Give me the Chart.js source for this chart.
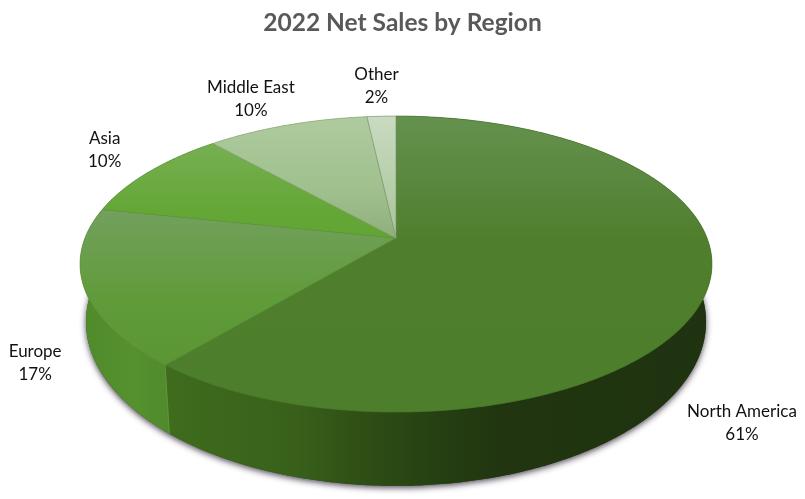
<!DOCTYPE html>
<html>
<head>
<meta charset="utf-8">
<title>2022 Net Sales by Region</title>
<script src="https://cdn.jsdelivr.net/npm/chart.js@4"></script>
<style>
    html, body { margin: 0; padding: 0; background: #fff; }
    canvas { display: block; }
</style>
</head>
<body>
<canvas id="salesChart" width="805" height="499"></canvas>
<script>
// Data
const TITLE = '2022 Net Sales by Region';
const REGIONS = ['North America', 'Europe', 'Asia', 'Middle East', 'Other'];
const SHARES = [61.1, 17.2, 10.1, 9.85, 1.75];

// Top face: vertical gradient stops per slice
const FACE_STOPS = [
    [[0, '#65914f'], [0.42, '#4f7f2d'], [1, '#4d7e2b']],
    [[0, '#73a05e'], [0.6, '#5f9b38'], [1, '#5b9634']],
    [[0, '#77af52'], [0.7, '#64a737'], [1, '#62a535']],
    [[0, '#aecb9f'], [0.6, '#a0c08d'], [1, '#8fb07c']],
    [[0, '#c9dbc0'], [1, '#a9c49a']]
];
// Side wall: horizontal gradient stops per slice
const WALL_STOPS = [
    [[0, '#3f6c1d'], [0.24, '#38601a'], [0.35, '#2f5016'], [0.5, '#253f12'], [0.62, '#203510'], [1, '#1f3310']],
    [[0, '#4f8a2b'], [0.6, '#56912f'], [1, '#4f8a2c']],
    [[0, '#4f8a2b'], [1, '#4f8a2b']],
    [[0, '#8fb07c'], [1, '#8fb07c']],
    [[0, '#a9c49a'], [1, '#a9c49a']]
];
const EDGE_COLORS = ['#4a7a2a', '#5e9239', '#5f9838', '#8aa87a', '#7f9a72'];

// Label position relative to the middle of the slice's rim
const LABEL_OFFSETS = [[35, 133], [-49, 75], [-44, -22], [-36, -26.5], [-5, -30.5]];
const LABEL_FONT = '17px Lato, "Open Sans", sans-serif';
const LABEL_LINE = 23;

// Perspective of the tilted disc: top rim and bottom rim
const TOP_RIM = { cx: 396, cy: 238, a: 311, b: 143.4, p: 0.176 };
const BOTTOM_RIM = { cx: 396, cy: 293, a: 305.2, b: 158.9, p: 0.176 };

function project(rim, angle, k) {
    const u = Math.cos(angle) * k;
    const v = Math.sin(angle) * k;
    const w = 1 - rim.p * v;
    return { x: rim.cx + rim.a * u / w, y: rim.cy + rim.b * v / w };
}

function arcPoints(rim, start, end) {
    const pts = [];
    const steps = Math.max(2, Math.ceil((end - start) / 0.01));
    for (let i = 0; i <= steps; i++) {
        pts.push(project(rim, start + (end - start) * i / steps, 1));
    }
    return pts;
}

function tracePath(ctx, pts) {
    ctx.beginPath();
    pts.forEach((pt, i) => i ? ctx.lineTo(pt.x, pt.y) : ctx.moveTo(pt.x, pt.y));
    ctx.closePath();
}

function gradient(ctx, pts, horizontal, stops) {
    const vals = pts.map(pt => horizontal ? pt.x : pt.y);
    const lo = Math.min(...vals), hi = Math.max(...vals);
    const g = horizontal ? ctx.createLinearGradient(lo, 0, hi, 0) : ctx.createLinearGradient(0, lo, 0, hi);
    stops.forEach(s => g.addColorStop(s[0], s[1]));
    return g;
}

// Draws the library's arc elements as a 3D disc
const pie3d = {
    id: 'pie3d',
    beforeDatasetsDraw(chart) {
        const ctx = chart.ctx;
        const arcs = chart.getDatasetMeta(0).data.map(el => el.getProps(['startAngle', 'endAngle']));
        ctx.save();

        // soft shadow under the whole disc
        ctx.save();
        ctx.shadowColor = 'rgba(50,40,60,0.85)';
        ctx.shadowBlur = 6;
        ctx.shadowOffsetY = 2;
        ctx.fillStyle = '#33561a';
        tracePath(ctx, arcPoints(BOTTOM_RIM, 0, Math.PI * 2));
        ctx.fill();
        ctx.restore();

        // side walls
        arcs.forEach((arc, i) => {
            const top = arcPoints(TOP_RIM, arc.startAngle, arc.endAngle);
            const bottom = arcPoints(BOTTOM_RIM, arc.startAngle, arc.endAngle);
            const outline = top.concat(bottom.slice().reverse());
            tracePath(ctx, outline);
            ctx.fillStyle = gradient(ctx, outline, true, WALL_STOPS[i]);
            ctx.fill();
        });

        // seam between the North America and Europe walls
        const seam = arcs[0].endAngle;
        const seamTop = project(TOP_RIM, seam, 1), seamBottom = project(BOTTOM_RIM, seam, 1);
        ctx.beginPath();
        ctx.moveTo(seamTop.x, seamTop.y);
        ctx.lineTo(seamBottom.x, seamBottom.y);
        ctx.strokeStyle = '#6a9c45';
        ctx.lineWidth = 0.8;
        ctx.stroke();

        // top faces
        arcs.forEach((arc, i) => {
            const apex = project(TOP_RIM, 0, 0);
            const outline = [apex].concat(arcPoints(TOP_RIM, arc.startAngle, arc.endAngle));
            tracePath(ctx, outline);
            ctx.fillStyle = gradient(ctx, outline, false, FACE_STOPS[i]);
            ctx.fill();
            ctx.strokeStyle = EDGE_COLORS[i];
            ctx.lineWidth = 0.7;
            ctx.stroke();
        });

        // labels
        ctx.font = LABEL_FONT;
        ctx.fillStyle = '#111';
        ctx.textAlign = 'center';
        ctx.textBaseline = 'middle';
        const total = SHARES.reduce((a, b) => a + b, 0);
        arcs.forEach((arc, i) => {
            const mid = project(TOP_RIM, (arc.startAngle + arc.endAngle) / 2, 1);
            const x = mid.x + LABEL_OFFSETS[i][0];
            const y = mid.y + LABEL_OFFSETS[i][1];
            ctx.fillText(REGIONS[i], x, y - LABEL_LINE / 2);
            ctx.fillText(Math.round(SHARES[i] / total * 100) + '%', x, y + LABEL_LINE / 2);
        });

        ctx.restore();
        return false;
    }
};

new Chart(document.getElementById('salesChart'), {
    type: 'pie',
    data: {
        labels: REGIONS,
        datasets: [{ data: SHARES }]
    },
    options: {
        responsive: false,
        animation: false,
        plugins: {
            legend: { display: false },
            tooltip: { enabled: false },
            title: {
                display: true,
                text: TITLE,
                color: '#595959',
                font: { family: 'Lato, "Open Sans", sans-serif', size: 24.5, weight: 'bold' },
                padding: { top: 8, bottom: 8 }
            }
        }
    },
    plugins: [pie3d]
});
</script>
</body>
</html>
